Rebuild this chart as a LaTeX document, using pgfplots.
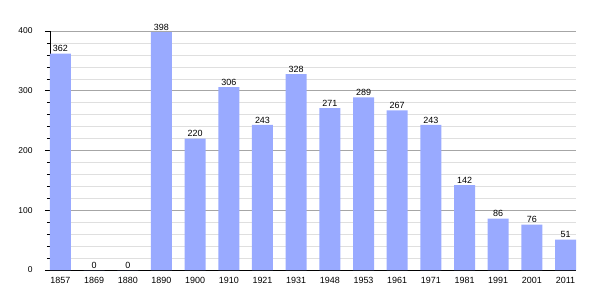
\documentclass[border=0pt]{standalone}
\usepackage{fontspec}
\setmainfont{Liberation Sans}
\usepackage{pgfplots}
\pgfplotsset{compat=1.18}
\definecolor{barblue}{RGB}{153,170,255}
\begin{document}
\begin{tikzpicture}
\path[use as bounding box] (-50bp,-30bp) rectangle (555bp,270bp);
\begin{axis}[
  scale only axis,
  width=526bp, height=239bp,
  xmin=-0.31, xmax=15.31,
  ymin=0, ymax=400,
  axis x line*=bottom,
  axis y line*=left,
  axis line style={black, line width=0.8pt},
  xtick=data,
  xticklabels={1857,1869,1880,1890,1900,1910,1921,1931,1948,1953,1961,1971,1981,1991,2001,2011},
  x tick style={draw=none},
  ytick={0,100,200,300,400},
  minor ytick={20,40,60,80,120,140,160,180,220,240,260,280,320,340,360,380},
  ymajorgrids, yminorgrids,
  major grid style={gray!70, line width=0.6pt},
  minor grid style={gray!25, line width=0.5pt},
  tick align=outside,
  major tick length=5bp,
  minor tick length=3bp,
  y tick style={black, line width=0.6pt},
  xticklabel style={font=\fontsize{9}{10}\selectfont, yshift=1bp},
  yticklabel style={font=\fontsize{8.5}{10}\selectfont, xshift=-9bp},
  /pgf/number format/assume math mode=true,
  /pgf/number format/1000 sep={},
  ybar, bar width=21bp,
  nodes near coords,
  nodes near coords style={font=\fontsize{9}{10}\selectfont, black, inner sep=1.5bp},
  clip=false,
]
\addplot[fill=barblue, draw=none] coordinates {
(0,362) (1,0) (2,0) (3,398) (4,220) (5,306) (6,243) (7,328) (8,271) (9,289) (10,267) (11,243) (12,142) (13,86) (14,76) (15,51)
};
\end{axis}
\end{tikzpicture}
\end{document}
